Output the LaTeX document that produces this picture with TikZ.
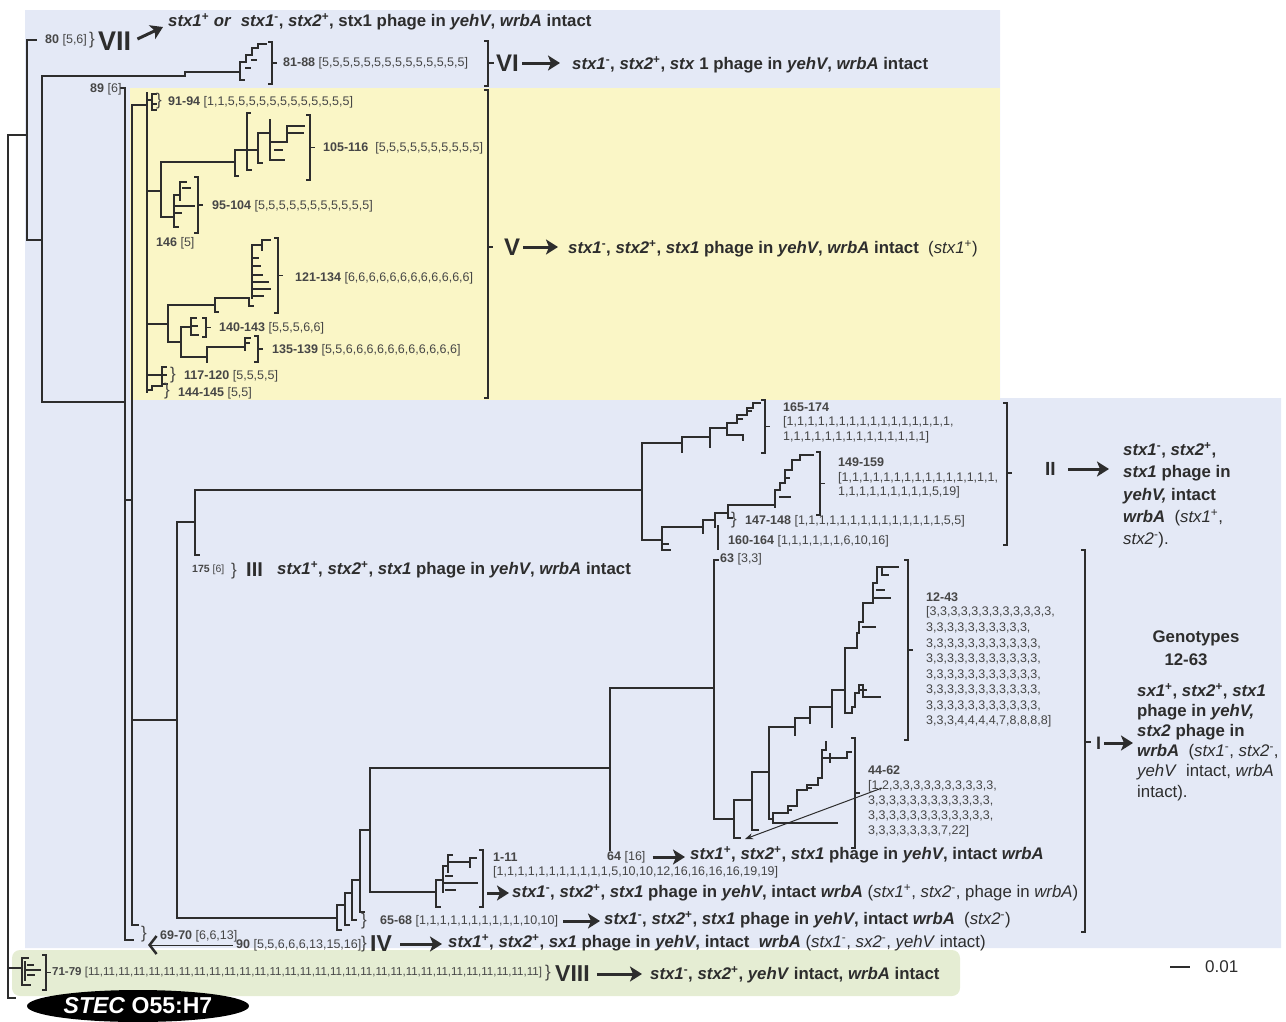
\documentclass[tikz,border=0pt]{standalone}
\usepackage{fontspec}
\setmainfont{Liberation Sans}
\usetikzlibrary{arrows.meta,shapes.geometric}
\definecolor{bgblue}{RGB}{228,233,246}
\definecolor{bgyel}{RGB}{250,246,198}
\definecolor{bggrn}{RGB}{229,237,211}
\definecolor{ink}{RGB}{45,45,45}
\definecolor{inkl}{RGB}{70,70,70}
\newcommand\gplus[1]{\textit{#1}\textsuperscript{+}}
\newcommand\gminus[1]{\textit{#1}\textsuperscript{-}}
\newcommand\elevens{11,11,11,11,11,11,11,}
\newcommand\rbrk[3]{\draw[brk] ({#1-4},#2) -- (#1,#2) -- (#1,#3) -- ({#1-4},#3); \draw[brk] (#1,{(#2+#3)/2}) -- ({#1+5},{(#2+#3)/2});}
\begin{document}
\begin{tikzpicture}[x=1pt,y=-1pt,
  br/.style={draw=ink, line width=1.7pt, line cap=rect},
  brk/.style={draw=ink, line width=1.3pt},
  lab/.style={anchor=west, inner sep=0pt, text=inkl, font=\fontsize{12.5}{14}\selectfont},
  labs/.style={lab, font=\fontsize{10.5}{12}\selectfont},
  brc/.style={lab, font=\fontsize{17}{17}\selectfont},
  ann/.style={anchor=west, inner sep=0pt, text=ink, font=\bfseries\fontsize{16.8}{20}\selectfont},
  rom/.style={anchor=west, inner sep=0pt, text=ink, font=\bfseries\fontsize{24}{24}\selectfont},
  bigarr/.style={draw=ink, line width=3pt, -{Stealth[length=12pt,width=15pt,inset=3pt]}},
  thinarr/.style={draw=ink, line width=1pt, -{Stealth[length=8pt,width=6pt]}}
]
\useasboundingbox (0,0) rectangle (1286,1021);
% ---------- backgrounds
\fill[bgblue] (25,10) -- (1000,10) -- (1000,398) -- (1281,398) -- (1281,948) -- (25,948) -- cycle;
\fill[bgyel] (130,88) rectangle (1000,400);
\fill[bggrn, rounded corners=8pt] (12,950) rectangle (960,996);

% ---------- backbone
\draw[br] (15,998) -- (8,998) -- (8,135) -- (27,135);
\draw[br] (36,40) -- (27,40) -- (27,240) -- (42,240);
\draw[br] (42,76) -- (42,402) -- (125,402);
\draw[br] (42,76) -- (185,76) -- (185,72) -- (240,72);
\draw[br] (240,80) -- (240,62) -- (246,62) -- (246,55) -- (252,55) -- (252,48) -- (258,48) -- (258,44) -- (266,44);
\draw[br] (240,80) -- (244,80);
\draw[br] (246,68) -- (250,68);
\draw[br] (252,60) -- (256,60);
\rbrk{272}{42}{84}

\draw[br] (121,88) -- (125,88) -- (125,940) -- (133,940);
\draw[br] (125,500) -- (132,500);
\draw[br] (138,925) -- (132,925) -- (132,105) -- (147,105);

% ---------- group V tree
\draw[br] (147,93) -- (147,392);
\draw[br] (147,100) -- (152,100);
\draw[br] (156,94) -- (152,94) -- (152,110) -- (156,110);
\draw[br] (152,104) -- (156,104);
\draw[br] (147,191) -- (161,191);
\draw[br] (161,162) -- (161,217);
\draw[br] (161,162) -- (235,162);
\draw[br] (238,176) -- (235,176) -- (235,150) -- (258,150);
\draw[br] (250,113) -- (247,113) -- (247,170) -- (251,170);
\draw[br] (262,163) -- (258,163) -- (258,133) -- (270,133);
\draw[br] (270,120) -- (270,160) -- (284,160);
\draw[br] (270,142) -- (287,142);
\draw[br] (287,142) -- (287,126) -- (304,126);
\draw[br] (289,133) -- (303,133);
\draw[br] (275,150) -- (282,150);
\rbrk{310}{115}{180}
\draw[br] (161,217) -- (174,217);
\draw[br] (178,227) -- (174,227) -- (174,195) -- (180,195);
\draw[br] (180,200) -- (180,182) -- (186,182);
\draw[br] (183,188) -- (190,188);
\draw[br] (176,206) -- (194,206);
\draw[br] (176,213) -- (181,213);
\rbrk{198}{177}{233}
\draw[br] (149,324) -- (168,324);
\draw[br] (168,305) -- (168,342);
\draw[br] (168,305) -- (215,305);
\draw[br] (218,312) -- (215,312) -- (215,298) -- (249,298);
\draw[br] (253,306) -- (249,306) -- (249,298);
\draw[br] (252,298) -- (252,245) -- (262,245);
\draw[br] (262,250) -- (262,240) -- (270,240);
\draw[br] (252,258) -- (258,258);
\draw[br] (252,266) -- (260,266);
\draw[br] (252,275) -- (262,275);
\draw[br] (252,282) -- (268,282);
\draw[br] (252,289) -- (270,289);
\draw[br] (252,296) -- (263,296);
\rbrk{278}{238}{313}
\draw[br] (168,342) -- (181,342);
\draw[br] (181,327) -- (181,357);
\draw[br] (181,327) -- (191,327);
\draw[br] (196,318) -- (191,318) -- (191,335) -- (198,335);
\draw[br] (192,326) -- (197,326);
\rbrk{206}{318}{337}
\draw[br] (181,357) -- (207,357);
\draw[br] (207,362) -- (207,347) -- (245,347);
\draw[br] (250,338) -- (245,338) -- (245,350);
\draw[br] (245,343) -- (249,343);
\rbrk{258}{336}{362}
\draw[br] (149,375) -- (162,375);
\draw[br] (166,367) -- (162,367) -- (162,384) -- (167,384);
\draw[br] (162,375) -- (166,375);
\draw[br] (149,390) -- (152,390) -- (152,386) -- (162,386);
\draw[brk] (484,90) -- (488,90) -- (488,398) -- (484,398);
\draw[brk] (488,247) -- (493,247);

% ---------- lower tree (II, III)
\draw[br] (132,720) -- (177,720);
\draw[br] (177,522) -- (177,918) -- (337,918);
\draw[br] (177,522) -- (195,522);
\draw[br] (199,555) -- (195,555) -- (195,490) -- (642,490);
\draw[br] (642,443) -- (642,540);
\draw[br] (642,443) -- (682,443);
\draw[br] (682,452) -- (682,437) -- (710,437);
\draw[br] (710,447) -- (710,428) -- (727,428);
\draw[br] (727,435) -- (727,423) -- (737,423) -- (737,415) -- (747,415) -- (747,408) -- (753,408) -- (753,403) -- (760,403);
\draw[br] (727,435) -- (743,435) -- (743,440);
\draw[br] (737,419) -- (742,419);
\draw[br] (747,411) -- (751,411);
\rbrk{765}{400}{453}
\draw[br] (642,540) -- (662,540);
\draw[br] (670,550) -- (662,550) -- (662,527) -- (703,527);
\draw[br] (664,544) -- (668,544);
\draw[br] (703,533) -- (703,520) -- (715,520);
\draw[br] (715,527) -- (715,513) -- (728,513);
\draw[br] (728,518) -- (728,505) -- (775,505);
\draw[br] (775,507) -- (775,490) -- (780,490) -- (780,483) -- (785,483) -- (785,470) -- (792,470) -- (792,460) -- (800,460) -- (800,455) -- (813,455);
\draw[br] (780,497) -- (790,497);
\draw[br] (785,478) -- (789,478);
\draw[br] (728,518) -- (732,518);
\rbrk{820}{452}{515}
\draw[brk] (718,525) -- (718,550);

% ---------- lower tree (I)
\draw[br] (341,930) -- (337,930) -- (337,905) -- (345,905);
\draw[br] (349,925) -- (345,925) -- (345,893) -- (352,893);
\draw[br] (356,920) -- (352,920) -- (352,880) -- (360,880);
\draw[br] (364,912) -- (360,912) -- (360,830) -- (370,830);
\draw[br] (436,892) -- (370,892) -- (370,768) -- (610,768);
\draw[br] (440,907) -- (436,907) -- (436,880) -- (443,880);
\draw[br] (443,892) -- (443,866) -- (448,866);
\draw[br] (448,872) -- (448,855) -- (452,855);
\draw[br] (448,862) -- (470,862);
\draw[br] (476,858) -- (470,858) -- (470,867);
\draw[br] (443,883) -- (477,883);
\draw[br] (446,876) -- (452,876);
\draw[br] (446,890) -- (455,890);
\draw[brk] (479,850) -- (483,850) -- (483,907) -- (479,907);
\draw[br] (610,850) -- (610,688) -- (714,688);
\draw[br] (718,560) -- (714,560) -- (714,819) -- (734,819);
\draw[br] (740,838) -- (734,838) -- (734,800) -- (752,800);
\draw[br] (758,830) -- (752,830) -- (752,772) -- (769,772);
\draw[br] (769,727) -- (769,819) -- (773,819);
\draw[br] (773,813) -- (773,823) -- (837,823);
\draw[br] (773,813) -- (788,813) -- (788,806) -- (797,806) -- (797,790) -- (807,790) -- (807,785) -- (818,785) -- (818,778) -- (822,778) -- (822,750) -- (826,750) -- (826,742);
\draw[br] (822,758) -- (847,758) -- (847,752) -- (851,752);
\draw[br] (788,810) -- (791,810);
\draw[br] (807,788) -- (811,788);
\draw[br] (830,754) -- (830,762);
\rbrk{855}{738}{848}
\draw[br] (769,727) -- (795,727);
\draw[br] (795,735) -- (795,718) -- (810,718);
\draw[br] (810,723) -- (810,707) -- (832,707);
\draw[br] (832,727) -- (832,690) -- (845,690);
\draw[br] (845,713) -- (845,648) -- (849,648);
\draw[br] (845,713) -- (852,713) -- (852,707) -- (855,707) -- (855,693) -- (859,693) -- (859,685) -- (863,685) -- (863,697) -- (880,697);
\draw[br] (859,690) -- (866,690);
\draw[br] (849,648) -- (857,648) -- (857,633) -- (859,633) -- (859,622) -- (863,622) -- (863,603) -- (873,603) -- (873,583) -- (877,583) -- (877,567) -- (882,567) -- (898,567);
\draw[br] (863,627) -- (875,627);
\draw[br] (873,598) -- (890,598);
\draw[br] (877,590) -- (884,590);
\draw[br] (882,567) -- (882,575) -- (888,575);
\draw[brk] (904,560) -- (908,560) -- (908,740) -- (904,740);
\draw[brk] (908,650) -- (913,650);

% ---------- VIII tree
\draw[br] (8,968) -- (22,968);
\draw[br] (28,958) -- (22,958) -- (22,985) -- (30,985);
\draw[br] (25,962) -- (25,980);
\draw[br] (25,970) -- (40,970);
\draw[br] (28,965) -- (33,965);
\draw[br] (28,975) -- (34,975);
\rbrk{46}{955}{990}

% ---------- labels: top
\node[lab] (n80) at (45,40) {\textbf{80} [5,6]};
\node[brc] (b80) at (89,40) {\}};
\node[rom, font=\bfseries\fontsize{27}{27}\selectfont] (r7) at (98,41) {VII};
\node[ann] (t7) at (168,22) {\gplus{stx1} \textit{or}\ \ \gminus{stx1}, \gplus{stx2}, stx1 phage in \textit{yehV}, \textit{wrbA} intact};
\draw[bigarr] ([xshift=6pt,yshift=2pt]r7.east) -- ([xshift=-5pt,yshift=-5pt]t7.west);
\node[lab] (n81) at (283,63) {\textbf{81-88} [5,5,5,5,5,5,5,5,5,5,5,5,5,5]};
\draw[brk] (484,41) -- (488,41) -- (488,86) -- (484,86);
\draw[brk] (488,63) -- (494,63);
\node[rom] (r6) at (496,63) {VI};
\node[ann] (t6) at (572,65) {\gminus{stx1}, \gplus{stx2}, \textit{stx} 1 phage in \textit{yehV}, \textit{wrbA} intact};
\draw[bigarr] ([xshift=3pt]r6.east) -- ([xshift=-12pt]r6.east -| t6.west);
\node[lab] (n89) at (90,89) {\textbf{89} [6]};

% ---------- labels: group V
\node[brc] (b91) at (156,101) {\}};
\node[lab] (n91) at (168,102) {\textbf{91-94} [1,1,5,5,5,5,5,5,5,5,5,5,5,5]};
\node[lab] (n105) at (323,148) {\textbf{105-116}\ \ [5,5,5,5,5,5,5,5,5,5]};
\node[lab] (n95) at (212,206) {\textbf{95-104} [5,5,5,5,5,5,5,5,5,5,5]};
\node[lab] (n146) at (156,243) {\textbf{146} [5]};
\node[lab] (n121) at (295,278) {\textbf{121-134} [6,6,6,6,6,6,6,6,6,6,6,6]};
\node[lab] (n140) at (219,328) {\textbf{140-143} [5,5,5,6,6]};
\node[lab] (n135) at (272,350) {\textbf{135-139} [5,5,6,6,6,6,6,6,6,6,6,6,6]};
\node[brc] (b117) at (170,375) {\}};
\node[lab] (n117) at (184,376) {\textbf{117-120} [5,5,5,5]};
\node[brc] (b144) at (164,391) {\}};
\node[lab] (n144) at (178,393) {\textbf{144-145} [5,5]};
\node[rom] (r5) at (504,247) {V};
\node[ann] (t5) at (568,249) {\gminus{stx1}, \gplus{stx2}, \textit{stx1} phage in \textit{yehV}, \textit{wrbA} intact\ \ \mdseries(\gplus{stx1})};
\draw[bigarr] ([xshift=3pt]r5.east) -- ([xshift=-10pt]r5.east -| t5.west);

% ---------- labels: group II
\node[lab] (n165) at (783,407) {\textbf{165-174}};
\node[lab] (n165a) at (783,422) {[1,1,1,1,1,1,1,1,1,1,1,1,1,1,1,1,};
\node[lab] (n165b) at (783,437) {1,1,1,1,1,1,1,1,1,1,1,1,1,1]};
\node[lab] (n149) at (838,462) {\textbf{149-159}};
\node[lab] (n149a) at (838,478) {[1,1,1,1,1,1,1,1,1,1,1,1,1,1,1,};
\node[lab] (n149b) at (838,492) {1,1,1,1,1,1,1,1,1,5,19]};
\node[brc] (b147) at (731,520) {\}};
\node[lab] (n147) at (745,521) {\textbf{147-148} [1,1,1,1,1,1,1,1,1,1,1,1,1,1,5,5]};
\node[lab] (n160) at (728,541) {\textbf{160-164} [1,1,1,1,1,1,6,10,16]};
\node[lab] (n63) at (720,559) {\textbf{63} [3,3]};
\draw[brk] (1003,403) -- (1007,403) -- (1007,545) -- (1003,545);
\draw[brk] (1007,473) -- (1012,473);
\node[rom, font=\bfseries\fontsize{19}{19}\selectfont] (r2) at (1045,469) {II};
\node[ann] (t2a) at (1123,450) {\gminus{stx1}, \gplus{stx2},};
\node[ann] (t2b) at (1123,473) {\textit{stx1} phage in};
\node[ann] (t2c) at (1123,496) {\textit{yehV,} intact};
\node[ann] (t2d) at (1123,518) {\textit{wrbA}\ \ \mdseries(\gplus{stx1},};
\node[ann] (t2e) at (1123,540) {\mdseries\gminus{stx2}).};
\draw[bigarr] ([xshift=12pt]r2.east) -- ([xshift=-14pt]r2.east -| t2a.west);

% ---------- labels: III
\node[labs] (n175) at (192,570) {\textbf{175} [6]};
\node[brc] (b175) at (231,571) {\}};
\node[rom, font=\bfseries\fontsize{20}{20}\selectfont] (r3) at (246,570) {III};
\node[ann] (t3) at (277,570) {\gplus{stx1}, \gplus{stx2}, \textit{stx1} phage in \textit{yehV}, \textit{wrbA} intact};

% ---------- labels: I
\node[lab] (n12) at (926,597) {\textbf{12-43}};
\node[lab] (n12a) at (926,612) {[3,3,3,3,3,3,3,3,3,3,3,3,};
\node[lab] (n12b) at (926,628) {3,3,3,3,3,3,3,3,3,3,};
\node[lab] (n12c) at (926,644) {3,3,3,3,3,3,3,3,3,3,3,};
\node[lab] (n12d) at (926,659) {3,3,3,3,3,3,3,3,3,3,3,};
\node[lab] (n12e) at (926,675) {3,3,3,3,3,3,3,3,3,3,3,};
\node[lab] (n12f) at (926,690) {3,3,3,3,3,3,3,3,3,3,3,};
\node[lab] (n12g) at (926,706) {3,3,3,3,3,3,3,3,3,3,3,};
\node[lab] (n12h) at (926,721) {3,3,3,4,4,4,4,7,8,8,8,8]};
\node[lab] (n44) at (868,770) {\textbf{44-62}};
\node[lab] (n44a) at (868,786) {[1,2,3,3,3,3,3,3,3,3,3,3,};
\node[lab] (n44b) at (868,801) {3,3,3,3,3,3,3,3,3,3,3,3,};
\node[lab] (n44c) at (868,816) {3,3,3,3,3,3,3,3,3,3,3,3,};
\node[lab] (n44d) at (868,831) {3,3,3,3,3,3,3,7,22]};
\draw[thinarr] ([xshift=14pt,yshift=-2pt]n44a.west) -- (745,839);
\draw[brk] (1081,550) -- (1085,550) -- (1085,932) -- (1081,932);
\draw[brk] (1085,742) -- (1091,742);
\node[ann, anchor=center] (g1) at (1196,638) {Genotypes};
\node[ann, anchor=center] (g2) at (1186,660) {12-63};
\node[ann] (t1a) at (1137,691) {\gplus{sx1}, \gplus{stx2}, \textit{stx1}};
\node[ann] (t1b) at (1137,712) {phage in \textit{yehV,}};
\node[ann] (t1c) at (1137,732) {\textit{stx2} phage in};
\node[ann] (t1d) at (1137,752) {\textit{wrbA}\ \ \mdseries(\gminus{stx1}, \gminus{stx2},};
\node[ann] (t1e) at (1137,772) {\mdseries\textit{yehV}\ \ intact, \textit{wrbA}};
\node[ann] (t1f) at (1137,793) {\mdseries intact).};
\node[rom, font=\bfseries\fontsize{18}{18}\selectfont] (r1) at (1096,743) {I};
\draw[bigarr] ([xshift=3pt]r1.east) -- ([xshift=-4pt]r1.east -| t1a.west);

\node[lab] (n64) at (607,857) {\textbf{64} [16]};
\node[ann] (t64) at (690,855) {\gplus{stx1}, \gplus{stx2}, \textit{stx1} phage in \textit{yehV}, intact \textit{wrbA}};
\draw[bigarr] ([xshift=7pt]n64.east) -- ([xshift=-5pt]n64.east -| t64.west);
\node[lab] (n1) at (493,857) {\textbf{1-11}};
\node[lab] (n1a) at (493,872) {[1,1,1,1,1,1,1,1,1,1,1,5,10,10,12,16,16,16,16,19,19]};
\coordinate (a1s) at (487,893);
\node[ann] (t1x) at (512,893) {\gminus{stx1}, \gplus{stx2}, \textit{stx1} phage in \textit{yehV}, intact \textit{wrbA} \mdseries(\gplus{stx1}, \gminus{stx2}, phage in \textit{wrbA})};
\draw[bigarr] (a1s) -- ([xshift=-3pt]t1x.west);
\node[brc] (b65) at (361,921) {\}};
\node[lab] (n65) at (380,921) {\textbf{65-68} [1,1,1,1,1,1,1,1,1,1,10,10]};
\node[ann] (t65) at (604,920) {\gminus{stx1}, \gplus{stx2}, \textit{stx1} phage in \textit{yehV}, intact \textit{wrbA}\ \ \mdseries(\gminus{stx2})};
\draw[bigarr] ([xshift=5pt]n65.east) -- ([xshift=-4pt]n65.east -| t65.west);

% ---------- IV row
\node[brc] (b69) at (141,934) {\}};
\node[lab] (n69) at (160,936) {\textbf{69-70} [6,6,13]};
\node[lab] (n90) at (236,945) {\textbf{90} [5,5,6,6,6,13,15,16]};
\draw[ink, line width=0.7pt, -{Straight Barb[length=7pt,width=18pt,line width=2.5pt]}] ([xshift=-3pt]n90.west) -- (148,945);
\node[brc] (b90) at (361,944) {\}};
\node[rom, font=\bfseries\fontsize{23}{23}\selectfont] (r4) at (370,944) {IV};
\node[ann] (t4) at (448,943) {\gplus{stx1}, \gplus{stx2}, \textit{sx1} phage in \textit{yehV}, intact\ \ \textit{wrbA} \mdseries(\gminus{stx1}, \gminus{sx2}, \textit{yehV} intact)};
\draw[bigarr] ([xshift=8pt]r4.east) -- ([xshift=-6pt]r4.east -| t4.west);

% ---------- VIII row
\node[lab, font=\fontsize{11.5}{13}\selectfont] (n71) at (52,973) {\textbf{71-79} [\elevens\elevens\elevens\elevens 11,11]};
\node[brc] (b71) at (545,973) {\}};
\node[rom, font=\bfseries\fontsize{23}{23}\selectfont] (r8) at (555,974) {VIII};
\node[ann] (t8) at (650,975) {\gminus{stx1}, \gplus{stx2}, \textit{yehV} intact, \textit{wrbA} intact};
\draw[bigarr] ([xshift=7pt]r8.east) -- ([xshift=-8pt]r8.east -| t8.west);

% ---------- STEC ellipse and scale
\node[ellipse, fill=black, text=white, inner sep=0pt, minimum width=222pt, minimum height=32pt, font=\bfseries\fontsize{23}{23}\selectfont] (stec) at (138,1006) {\textit{STEC} O55:H7};
\coordinate (sc1) at (1170,967);
\coordinate (sc2) at (1190,967);
\draw[ink, line width=1.4pt] (sc1) -- (sc2);
\node[anchor=west, inner sep=0pt, text=ink, font=\fontsize{17}{17}\selectfont] (sclab) at (1205,967) {0.01};
\end{tikzpicture}
\end{document}
